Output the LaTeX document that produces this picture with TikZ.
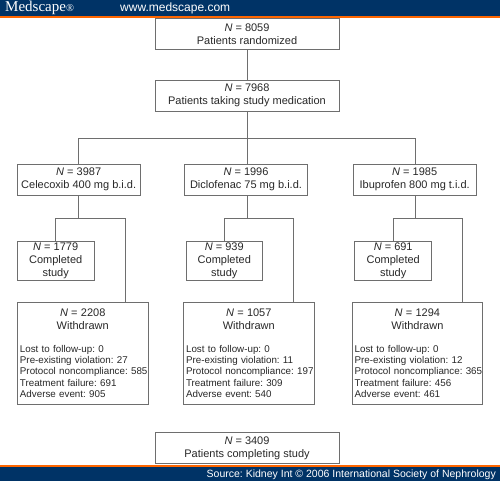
\documentclass[tikz,border=0pt]{standalone}
\usepackage{fontspec}
\setmainfont{Liberation Sans}
\newfontfamily\logofont{Liberation Serif}
\usepackage{xcolor}
\usetikzlibrary{positioning}
\definecolor{bannerblue}{RGB}{0,51,102}
\definecolor{bannerorange}{RGB}{255,102,0}
\definecolor{boxline}{RGB}{110,110,110}
\definecolor{boxtext}{RGB}{40,40,40}
\frenchspacing
\newcommand{\enn}[1]{\textit{N} = #1}
\newcommand{\withdrawn}[6]{%
  \makebox[\linewidth]{\fontsize{11}{12.8}\selectfont\enn{#1}}\\[1.3pt]
  \makebox[\linewidth]{\fontsize{11}{12.8}\selectfont Withdrawn}\\[11.6pt]
  Lost to follow-up: #2\\Pre-existing violation: #3\\\mbox{Protocol noncompliance: #4}\\
  Treatment failure: #5\\Adverse event: #6}

\begin{document}
\begin{tikzpicture}[
  x=1pt,y=-1pt,
  bigbox/.style ={draw=boxline,line width=0.9pt,fill=white,text=boxtext,minimum width=184pt,
                  minimum height=30.7pt,inner sep=0pt,align=center,
                  font=\fontsize{11}{12.8}\selectfont},
  armbox/.style ={bigbox,minimum width=122.5pt},
  donebox/.style={bigbox,minimum width=76.7pt,minimum height=39.7pt},
  quitbox/.style={draw=boxline,line width=0.9pt,fill=white,text=boxtext,minimum height=101.7pt,
                  minimum width=130.5pt,text width=125.5pt,inner sep=0pt,align=left,
                  font=\fontsize{9.8}{11.35}\selectfont},
  flow/.style   ={draw=boxline,line width=0.9pt},
  band/.style   ={inner sep=0pt,text=white},
]
\useasboundingbox (0,0) rectangle (500,481);
\fill[white] (0,0) rectangle (500,481);

% banners
\fill[bannerblue] (0,0) rectangle (500,16);
\fill[bannerorange] (0,16) rectangle (500,18);
\fill[bannerorange] (0,465) rectangle (500,467);
\fill[bannerblue] (0,467) rectangle (500,481);
\node[band,anchor=west,font=\logofont\fontsize{15}{15}\selectfont] (logo) at (5,8)
  {Medscape{\fontsize{10.5}{10.5}\selectfont\textregistered}};
\node[band,anchor=west,font=\fontsize{12}{12}\selectfont] (site) at (120,8.5) {www.medscape.com};
\node[band,anchor=east,font=\fontsize{10.5}{10.5}\selectfont] (source) at (496,474.5)
  {Source: Kidney Int \textcopyright{} 2006 International Society of Nephrology};

% top of the chart
\node[bigbox] (rand)  at (247,34.3)  {\enn{8059}\\Patients randomized};
\node[bigbox] (taken) at (247,95.7)  {\enn{7968}\\Patients taking study medication};
\node[bigbox] (final) at (247,448.2) {\enn{3409}\\Patients completing study};

% treatment arms
\node[armbox] (cele) at ( 78.7,179.7) {\enn{3987}\\Celecoxib 400 mg b.i.d.};
\node[armbox] (diclo) at (246,179.7)  {\enn{1996}\\Diclofenac 75 mg b.i.d.};
\node[armbox] (ibu)  at (414.7,179.7) {\enn{1985}\\Ibuprofen 800 mg t.i.d.};

\node[donebox] (celedone)  at ( 55.7,261) {\enn{1779}\\Completed\\study};
\node[donebox] (diclodone) at (224.3,261) {\enn{939}\\Completed\\study};
\node[donebox] (ibudone)   at (393.2,261) {\enn{691}\\Completed\\study};

\node[quitbox] (celequit)  at ( 82.7,353.2)
  {\withdrawn{2208}{0}{27}{585}{691}{905}};
\node[quitbox] (dicloquit) at (248.8,353.2)
  {\withdrawn{1057}{0}{11}{197}{309}{540}};
\node[quitbox] (ibuquit)   at (417.4,353.2)
  {\withdrawn{1294}{0}{12}{365}{456}{461}};

% junctions
\coordinate (fork)  at (247.7,138.5);
\coordinate (celetop) at (78.7,138.5);
\coordinate (ibutop)  at (415.7,138.5);
\coordinate (celebar) at (78.7,218);
\coordinate (diclobar) at (247.7,218);
\coordinate (ibubar)  at (415.7,218);

% main flow
\draw[flow] (rand.south -| fork) -- (taken.north -| fork);
\draw[flow] (taken.south -| fork) -- (fork);
\draw[flow] (cele.north -| celetop) -- (celetop) -- (ibutop) -- (ibu.north -| ibutop);
\draw[flow] (fork) -- (diclo.north -| fork);

% splits below each arm
\draw[flow] (cele.south -| celebar) -- (celebar);
\draw[flow] (celedone.north) -- (celedone.north |- celebar) -- (125,218) -- (celequit.north -| 125,218);
\draw[flow] (diclo.south -| diclobar) -- (diclobar);
\draw[flow] (diclodone.north) -- (diclodone.north |- diclobar) -- (293.3,218) -- (dicloquit.north -| 293.3,218);
\draw[flow] (ibu.south -| ibubar) -- (ibubar);
\draw[flow] (ibudone.north) -- (ibudone.north |- ibubar) -- (462,218) -- (ibuquit.north -| 462,218);
\end{tikzpicture}
\end{document}
